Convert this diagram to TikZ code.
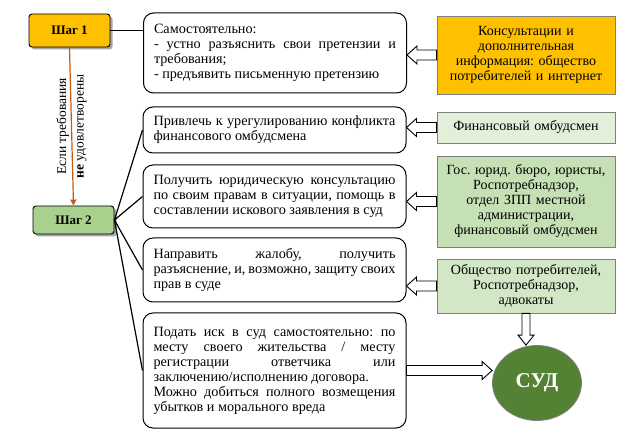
\documentclass[tikz,border=0pt]{standalone}
\usepackage{fontspec}
\setmainfont{Liberation Serif}
\usetikzlibrary{arrows.meta,shadows,calc,shapes.geometric}
\definecolor{gold}{HTML}{FFC000}
\definecolor{stepgreen}{HTML}{A9D18E}
\definecolor{lgreen}{HTML}{E2EFD9}
\definecolor{mgreen}{HTML}{C5E0B4}
\definecolor{m2green}{HTML}{D2E7C5}
\definecolor{dgreen}{HTML}{548235}
\definecolor{rust}{HTML}{C55A11}
\definecolor{bordergray}{HTML}{7F7F7F}
\tikzset{
  stepbox/.style={draw=black, line width=0.9pt, rounded corners=3pt, minimum width=81pt,
    font=\fontsize{13}{15}\selectfont\bfseries, inner sep=0pt,
    drop shadow={shadow xshift=2.5pt, shadow yshift=-2.5pt, fill=black, opacity=0.35}},
  actbox/.style={draw=black, line width=1pt, rounded corners=10pt, minimum width=263pt,
    text width=242pt, align=justify, inner xsep=10.5pt, inner ysep=0pt,
    font=\fontsize{14.2}{15}\selectfont},
  srcbox/.style={draw=bordergray, line width=0.8pt, minimum width=178pt, text width=176pt,
    align=center, inner xsep=1pt, inner ysep=0pt, font=\fontsize{14}{15}\selectfont},
  hollow/.style={draw=black, fill=white, line width=0.9pt, line join=miter},
  fan/.style={draw=black, line width=1.2pt},
}
\newcommand\hollowleft[2]{\draw[hollow] let \p1=(#1), \p2=(#2) in
  (\x1,\y1+5pt) -- (\x2+10pt,\y1+5pt) -- (\x2+10pt,\y1+9pt) -- (\x2,\y1) --
  (\x2+10pt,\y1-9pt) -- (\x2+10pt,\y1-5pt) -- (\x1,\y1-5pt) -- cycle;}
\newcommand\hollowright[2]{\draw[hollow] let \p1=(#1), \p2=(#2) in
  (\x1,\y1+5pt) -- (\x2-10pt,\y1+5pt) -- (\x2-10pt,\y1+9pt) -- (\x2,\y1) --
  (\x2-10pt,\y1-9pt) -- (\x2-10pt,\y1-5pt) -- (\x1,\y1-5pt) -- cycle;}
\newcommand\hollowdown[2]{\draw[hollow] let \p1=(#1), \p2=(#2) in
  (\x1-4pt,\y1) -- (\x1-4pt,\y2+10pt) -- (\x1-8pt,\y2+10pt) -- (\x1,\y2) --
  (\x1+8pt,\y2+10pt) -- (\x1+4pt,\y2+10pt) -- (\x1+4pt,\y1) -- cycle;}
\begin{document}
\frenchspacing
\begin{tikzpicture}[x=1pt, y=-1pt, font=\fontsize{14}{15}\selectfont]
\useasboundingbox (0,0) rectangle (640,438);
\fill[white] (0,0) rectangle (640,438);

% steps
\node[stepbox, fill=gold, minimum height=33pt] (s1) at (69.5,30.5) {Шаг 1};
\node[stepbox, fill=stepgreen, minimum height=28pt] (s2) at (73.5,220) {Шаг 2};

% action boxes
\node[actbox, minimum height=80pt] (b1) at (275,53)
  {Самостоятельно:\\- устно разъяснить свои претензии и\linebreak требования;\\- предъявить письменную претензию};
\node[actbox, minimum height=46pt] (b2) at (274.5,130)
  {Привлечь к урегулированию конфликта\linebreak финансового омбудсмена};
\node[actbox, minimum height=63pt] (b3) at (274.5,196.5)
  {Получить юридическую консультацию\linebreak по своим правам в ситуации, помощь в\linebreak составлении искового заявления в суд};
\node[actbox, minimum height=64pt] (b4) at (274.5,270)
  {Направить жалобу, получить\linebreak разъяснение, и, возможно, защиту своих\linebreak прав в суде};
\node[actbox, minimum height=115pt] (b5) at (274.5,370.5)
  {Подать иск в суд самостоятельно: по\linebreak месту своего жительства / месту\linebreak регистрации ответчика или\linebreak заключению/исполнению договора.\\Можно добиться полного возмещения\linebreak убытков и морального вреда};

% source boxes
\node[srcbox, fill=gold, minimum height=78pt] (g0) at (526,55)
  {Консультации и\\дополнительная\\информация: общество\\потребителей и интернет};
\node[srcbox, fill=lgreen, minimum height=31pt] (g1) at (526,127.5)
  {Финансовый омбудсмен};
\node[srcbox, fill=mgreen, minimum height=91pt] (g2) at (526,201.5)
  {Гос. юрид. бюро, юристы,\\Роспотребнадзор,\\отдел ЗПП местной\\администрации,\\финансовый омбудсмен};
\node[srcbox, fill=m2green, minimum height=54pt] (g3) at (526,286)
  {Общество потребителей,\\Роспотребнадзор,\\адвокаты};

% court
\node[ellipse, draw=bordergray, line width=0.8pt, fill=dgreen, minimum width=89pt,
  minimum height=75pt, text=white, font=\fontsize{21}{24}\selectfont\bfseries] (sud) at (537,383) {СУД};

% connectors
\draw[fan] (s1.east) -- (b1.west |- s1.east);
\draw[rust, line width=1.2pt, -{Triangle[width=6pt,length=6pt]}] (s1.south) -- (s2.north)
  node[midway, rotate=90, text=black, align=center, font=\fontsize{13.5}{17.5}\selectfont]
  {Если требования\\\textbf{не} удовлетворены};
\draw[fan] (s2.east) -- (b2.west);
\draw[fan] (s2.east) -- (b3.west);
\draw[fan] (s2.east) -- (b4.west);
\draw[fan] (s2.east) -- (b5.west);

\hollowleft{g0.west}{b1.east}
\hollowleft{g1.west}{b2.east}
\hollowleft{g2.west}{b3.east}
\hollowleft{g3.west}{b4.east}
\hollowright{b5.east}{sud.west}
\hollowdown{g3.south}{sud.north}
\end{tikzpicture}
\end{document}
